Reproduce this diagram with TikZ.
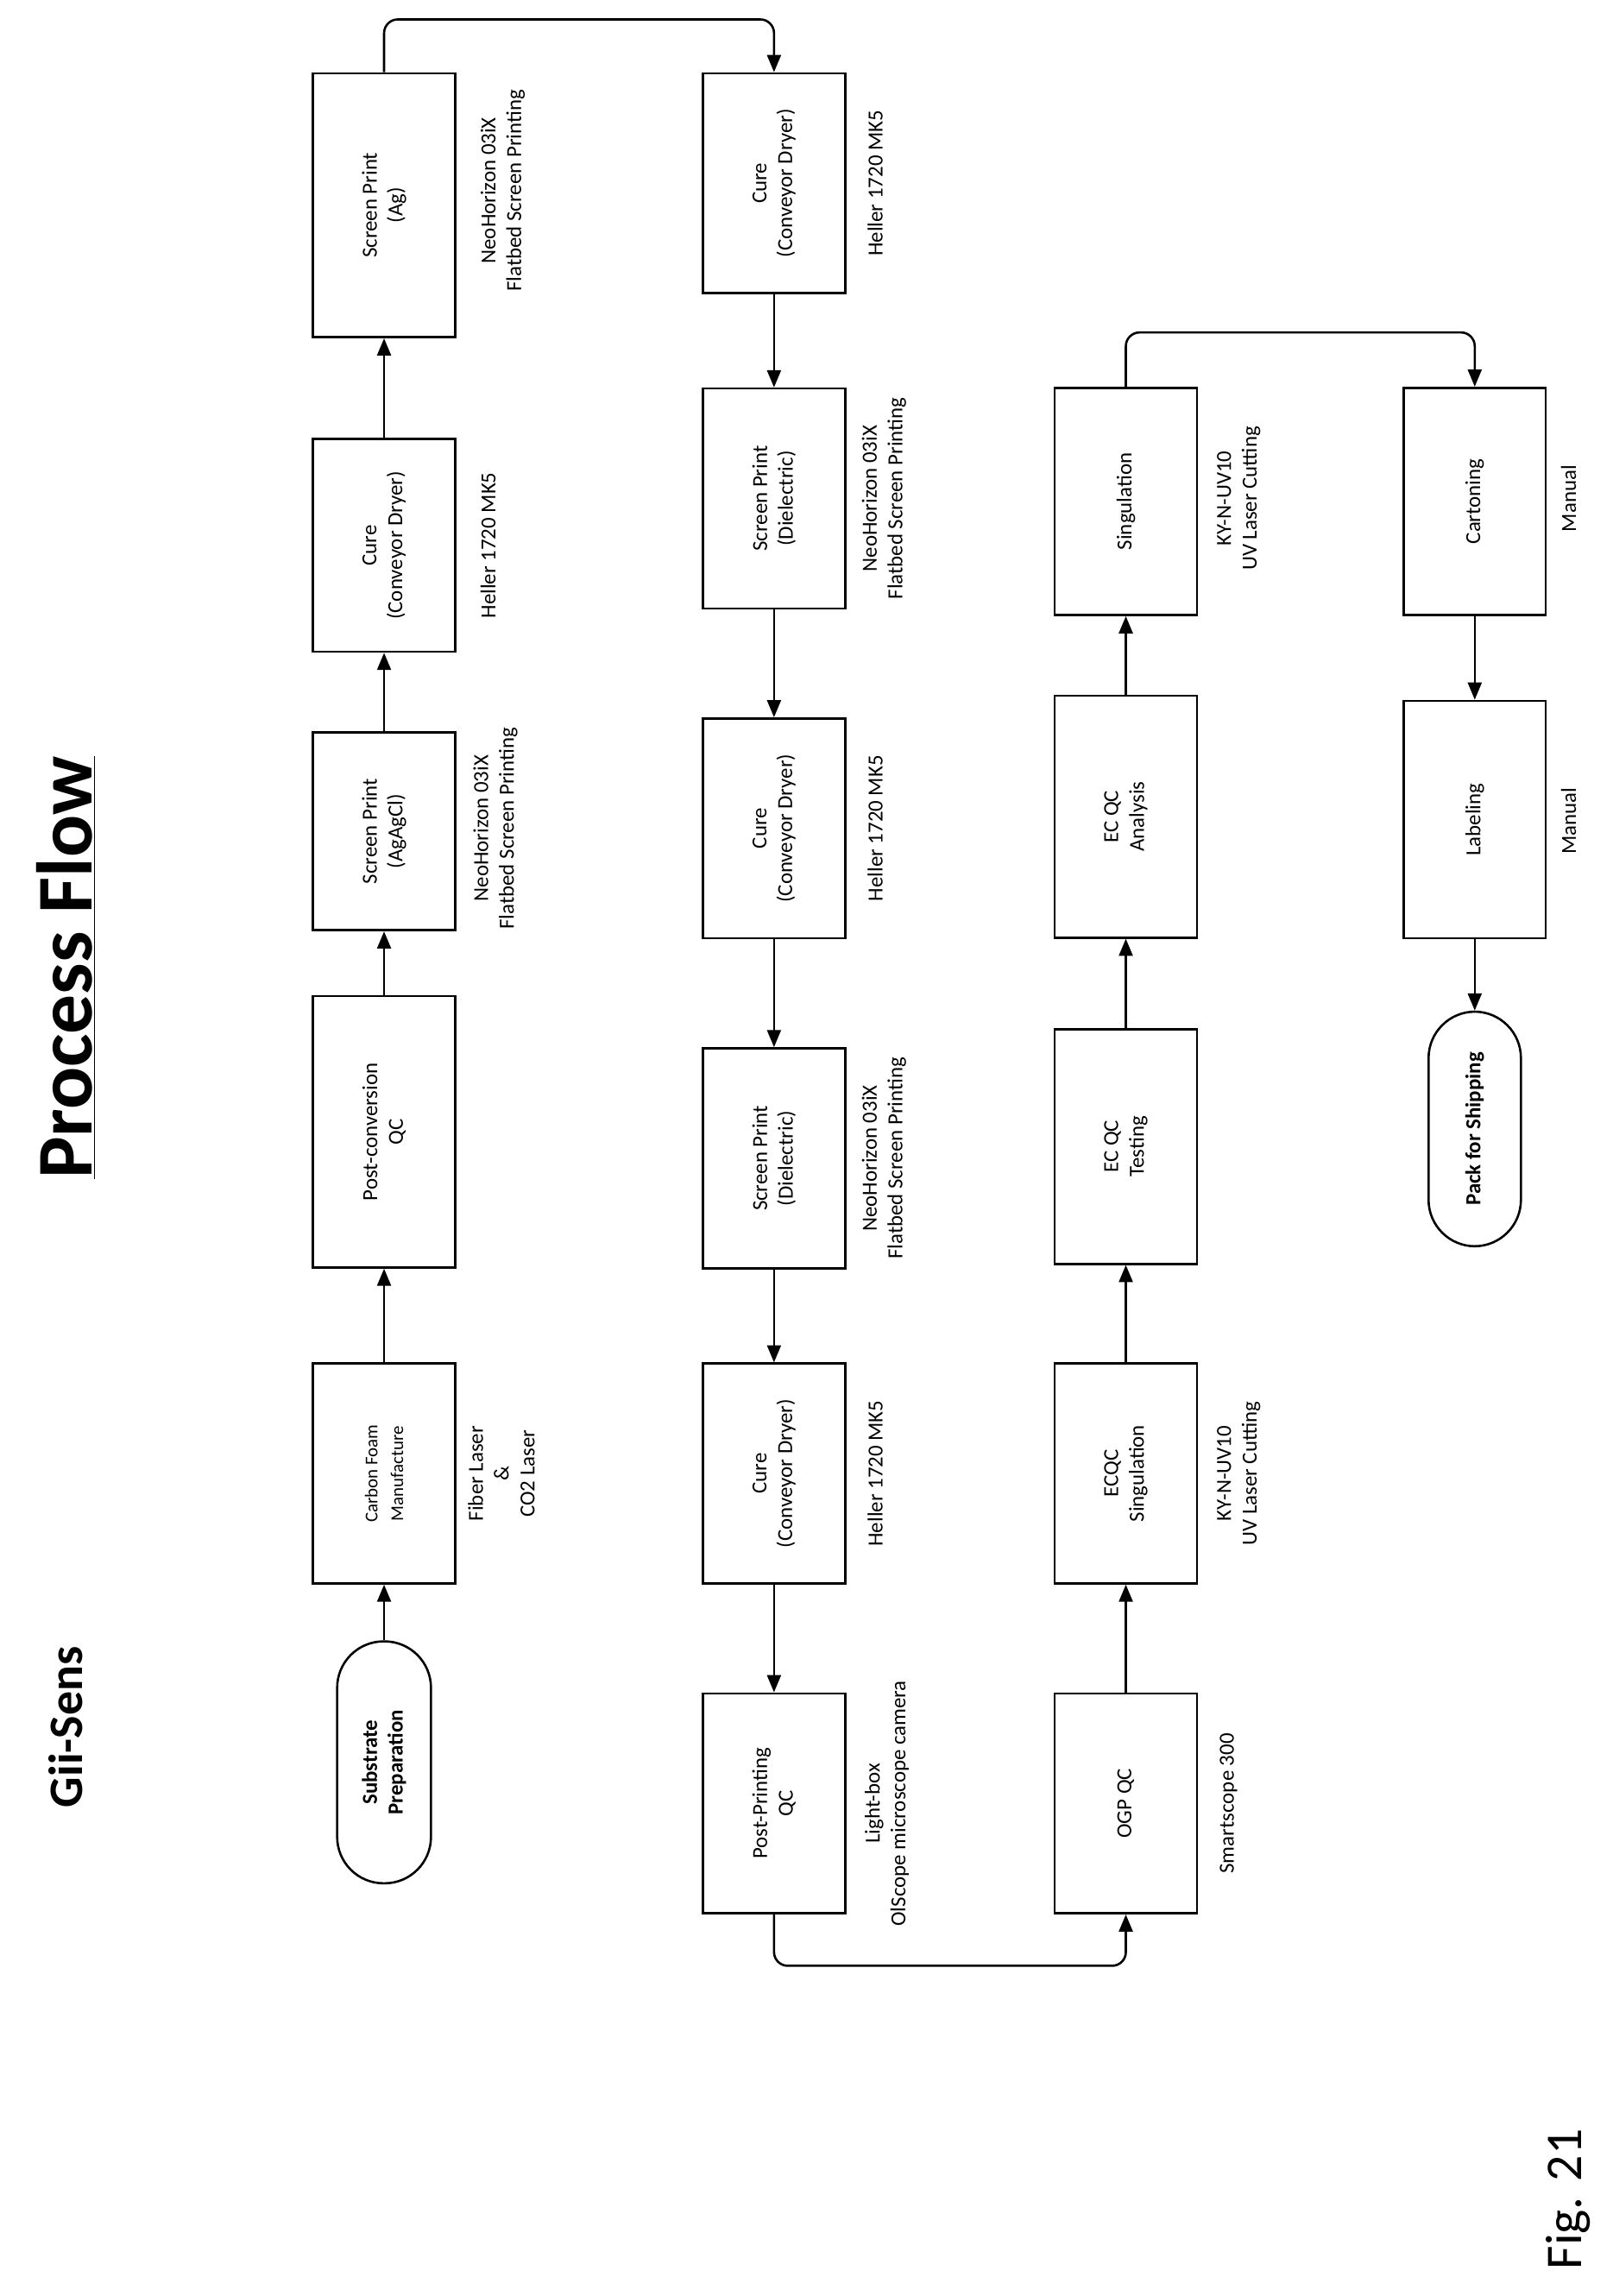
\documentclass[tikz,border=0pt]{standalone}
\usepackage{fontspec}
\setmainfont{Carlito}
\usetikzlibrary{arrows.meta}
\begin{document}
\begin{tikzpicture}[x=0.03cm,y=-0.03cm,
  box/.style={draw,line width=1.3pt,rotate=90,minimum height=2.91cm,align=center,font=\fontsize{12.5}{15}\selectfont,inner sep=2pt},
  term/.style={draw,line width=1.3pt,rotate=90,minimum height=1.92cm,rounded corners=0.95cm,align=center,font=\bfseries\fontsize{12.5}{15}\selectfont},
  lab/.style={rotate=90,align=center,font=\fontsize{12.5}{15}\selectfont,inner sep=0pt},
  arr/.style={line width=1.3pt,-{Triangle[length=10pt,width=8pt]}},
  con/.style={arr,rounded corners=8pt}]
\useasboundingbox (0,0) rectangle (1100,1566);
\fill[white] (0,0) rectangle (1100,1566);
% titles
\node[rotate=90,font=\bfseries\fontsize{46}{52}\selectfont] (title) at (45,660) {\underline{Process Flow}};
\node[rotate=90,font=\bfseries\fontsize{28}{32}\selectfont] (gii) at (45,1178) {Gii-Sens};
\node[rotate=90,font=\fontsize{30}{34}\selectfont] (fig) at (1070,1500) {Fig. 21};
% column 1
\node[term,minimum width=4.95cm] (sub) at (262,1202) {Substrate\\Preparation};
\node[box,minimum width=4.5cm] (carb) at (262,1005) {\fontsize{10.5}{13}\selectfont Carbon Foam\\\fontsize{10.5}{13}\selectfont Manufacture};
\node[box,minimum width=5.55cm] (pcqc) at (262,772) {Post-conversion\\QC};
\node[box,minimum width=4.05cm] (spagcl) at (262,567) {Screen Print\\(AgAgCl)};
\node[box,minimum width=4.35cm] (cure1) at (262,372) {Cure\\(Conveyor Dryer)};
\node[box,minimum width=5.4cm] (spag) at (262,140) {Screen Print\\(Ag)};
\node[lab] (l1) at (342,1005) {Fiber Laser\\\&\\CO2 Laser};
\node[lab] (l2) at (338,565) {NeoHorizon 03iX\\Flatbed Screen Printing};
\node[lab] (l3) at (333,372) {Heller 1720 MK5};
\node[lab] (l4) at (343,130) {NeoHorizon 03iX\\Flatbed Screen Printing};
\draw[arr] (sub) -- (carb);
\draw[arr] (carb) -- (pcqc);
\draw[arr] (pcqc) -- (spagcl);
\draw[arr] (spagcl) -- (cure1);
\draw[arr] (cure1) -- (spag);
% column 2
\node[box,minimum width=4.5cm] (cure2) at (528,125) {Cure\\(Conveyor Dryer)};
\node[box,minimum width=4.5cm] (spd1) at (528,340) {Screen Print\\(Dielectric)};
\node[box,minimum width=4.5cm] (cure3) at (528,565) {Cure\\(Conveyor Dryer)};
\node[box,minimum width=4.5cm] (spd2) at (528,790) {Screen Print\\(Dielectric)};
\node[box,minimum width=4.5cm] (cure4) at (528,1005) {Cure\\(Conveyor Dryer)};
\node[box,minimum width=4.5cm] (ppqc) at (528,1230) {Post-Printing\\QC};
\node[lab] (m1) at (597,125) {Heller 1720 MK5};
\node[lab] (m2) at (603,340) {NeoHorizon 03iX\\Flatbed Screen Printing};
\node[lab] (m3) at (597,565) {Heller 1720 MK5};
\node[lab] (m4) at (603,790) {NeoHorizon 03iX\\Flatbed Screen Printing};
\node[lab] (m5) at (597,1005) {Heller 1720 MK5};
\node[lab] (m6) at (605,1230) {Light-box\\OlScope microscope camera};
\draw[con] (spag.east) -- ++(0,-36) -| (cure2.east);
\draw[arr] (cure2) -- (spd1);
\draw[arr] (spd1) -- (cure3);
\draw[arr] (cure3) -- (spd2);
\draw[arr] (spd2) -- (cure4);
\draw[arr] (cure4) -- (ppqc);
% column 3
\node[box,minimum width=4.5cm] (ogp) at (768,1230) {OGP QC};
\node[box,minimum width=4.5cm] (ecs) at (768,1005) {ECQC\\Singulation};
\node[box,minimum width=4.8cm] (ect) at (768,782) {EC QC\\Testing};
\node[box,minimum width=4.95cm] (eca) at (768,557) {EC QC\\Analysis};
\node[box,minimum width=4.65cm] (sing) at (768,342) {Singulation};
\node[lab] (n1) at (838,1230) {Smartscope 300};
\node[lab] (n2) at (845,1005) {KY-N-UV10\\UV Laser Cutting};
\node[lab] (n3) at (845,340) {KY-N-UV10\\UV Laser Cutting};
\draw[con] (ppqc.west) -- ++(0,35) -| (ogp.west);
\draw[arr] (ogp) -- (ecs);
\draw[arr] (ecs) -- (ect);
\draw[arr] (ect) -- (eca);
\draw[arr] (eca) -- (sing);
% column 4
\node[box,minimum width=4.65cm] (cart) at (1006,342) {Cartoning};
\node[box,minimum width=4.86cm] (labl) at (1006,559) {Labeling};
\node[term,minimum width=4.8cm,minimum height=1.89cm] (pack) at (1006,770) {Pack for Shipping};
\node[lab] (o1) at (1070,340) {Manual};
\node[lab] (o2) at (1070,560) {Manual};
\draw[con] (sing.east) -- ++(0,-37) -| (cart.east);
\draw[arr] (cart) -- (labl);
\draw[arr] (labl) -- (pack);
\end{tikzpicture}
\end{document}
